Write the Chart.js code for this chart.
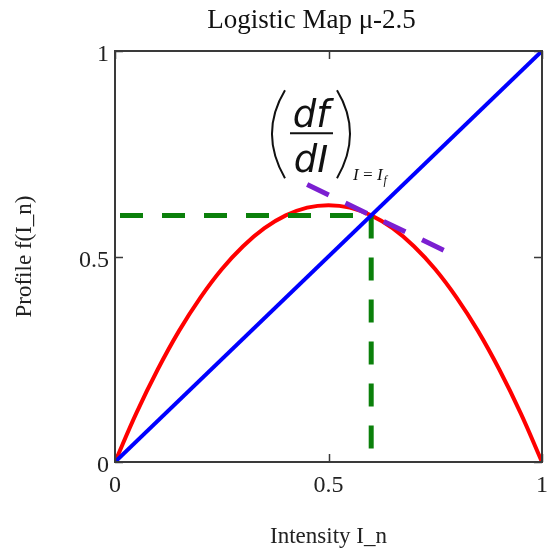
<!DOCTYPE html>
<html>
<head>
<meta charset="utf-8">
<script src="https://cdn.jsdelivr.net/npm/chart.js@4.4.1/dist/chart.umd.min.js"></script>
<style>
  html, body { margin: 0; padding: 0; background: #fff; }
  #wrap { width: 548px; height: 554px; }
</style>
</head>
<body>
<div id="wrap"><canvas id="logistic-chart"></canvas></div>
<script>
// logistic map f(I) = mu * I * (1 - I), mu = 2.5
const intensity = [0, 0.05, 0.1, 0.15, 0.2, 0.25, 0.3, 0.35, 0.4, 0.45, 0.5,
                   0.55, 0.6, 0.65, 0.7, 0.75, 0.8, 0.85, 0.9, 0.95, 1];
const profile   = [0, 0.119, 0.225, 0.319, 0.4, 0.469, 0.525, 0.569, 0.6, 0.619, 0.625,
                   0.619, 0.6, 0.569, 0.525, 0.469, 0.4, 0.319, 0.225, 0.119, 0];

// identity line I_{n+1} = I_n
const diagX = [0, 1];
const diagY = [0, 1];

// fixed point I_f and its guide lines
const fixedX = 0.6;
const fixedY = 0.6;
const guideHX = [0, fixedX];
const guideHY = [fixedY, fixedY];
const guideVX = [fixedX, fixedX];
const guideVY = [fixedY, 0];

// tangent (slope -0.5) through the fixed point
const tangentX = [0.45, 0.77];
const tangentY = [0.675, 0.515];

const tickValues = [0, 0.5, 1];
const tickLabels = ['0', '0.5', '1'];

const titleText = 'Logistic Map \u03bc-2.5';
const xTitle = 'Intensity I_n';
const yTitle = 'Profile f(I_n)';

// annotation anchor (data units)
const noteX = 0.459;
const noteY = 0.80;

const serif = "'Liberation Serif', 'Times New Roman', serif";
const toPts = (xs, ys) => xs.map((v, i) => ({ x: v, y: ys[i] }));

// 框線、內側刻度、標題與 df/dI 註解
const framePlugin = {
  id: 'frame',
  afterDraw(chart) {
    const { ctx, chartArea: a, scales: { x, y } } = chart;
    ctx.save();
    ctx.strokeStyle = '#3a3a3a';
    ctx.lineWidth = 2;
    ctx.strokeRect(a.left, a.top, a.right - a.left, a.bottom - a.top);

    ctx.lineWidth = 1.5;
    ctx.beginPath();
    tickValues.forEach(v => {
      const px = Math.round(x.getPixelForValue(v)) + 0.5;
      const py = Math.round(y.getPixelForValue(v)) + 0.5;
      ctx.moveTo(px, a.bottom); ctx.lineTo(px, a.bottom - 8);
      ctx.moveTo(px, a.top); ctx.lineTo(px, a.top + 8);
      ctx.moveTo(a.left, py); ctx.lineTo(a.left + 8, py);
      ctx.moveTo(a.right, py); ctx.lineTo(a.right - 8, py);
    });
    ctx.stroke();

    // title
    ctx.fillStyle = '#111';
    ctx.font = `27px ${serif}`;
    ctx.textAlign = 'center';
    ctx.textBaseline = 'alphabetic';
    ctx.fillText(titleText, (a.left + a.right) / 2 - 17, 28);

    // (df/dI)_{I=I_f}
    const ax = x.getPixelForValue(noteX);
    const ay = y.getPixelForValue(noteY);
    ctx.lineWidth = 2;
    ctx.strokeStyle = '#111';
    ctx.beginPath();
    ctx.moveTo(ax - 26, ay - 43);
    ctx.quadraticCurveTo(ax - 52, ay, ax - 26, ay + 45);
    ctx.moveTo(ax + 26, ay - 43);
    ctx.quadraticCurveTo(ax + 52, ay, ax + 26, ay + 45);
    ctx.moveTo(ax - 21, ay);
    ctx.lineTo(ax + 22, ay);
    ctx.stroke();

    ctx.font = "italic 37px 'DejaVu Sans', sans-serif";
    ctx.fillText('df', ax, ay - 6);
    ctx.fillText('dI', ax, ay + 39);

    ctx.textAlign = 'left';
    ctx.font = `italic 17px ${serif}`;
    ctx.fillText('I\u2009=\u2009I', ax + 42, ay + 47);
    const w = ctx.measureText('I\u2009=\u2009I').width;
    ctx.font = `italic 12px ${serif}`;
    ctx.fillText('f', ax + 43 + w, ay + 51);
    ctx.restore();
  }
};

const axisBase = {
  type: 'linear',
  min: 0,
  max: 1,
  grid: { display: false, drawTicks: false },
  border: { display: false },
  afterBuildTicks(s) { s.ticks = tickValues.map(v => ({ value: v })); },
};

new Chart(document.getElementById('logistic-chart'), {
  type: 'scatter',
  data: {
    datasets: [
      {
        data: toPts(tangentX, tangentY),
        showLine: true, borderColor: '#7b1fd1', borderWidth: 5,
        borderDash: [24, 18.5], pointRadius: 0, order: 0
      },
      {
        data: toPts(diagX, diagY),
        showLine: true, borderColor: '#0000ff', borderWidth: 4,
        pointRadius: 0, order: 1
      },
      {
        data: toPts(guideHX, guideHY),
        showLine: true, borderColor: '#0b800b', borderWidth: 5,
        borderDash: [23, 19], borderDashOffset: -5, pointRadius: 0, order: 2
      },
      {
        data: toPts(guideVX, guideVY),
        showLine: true, borderColor: '#0b800b', borderWidth: 5,
        borderDash: [23, 19], pointRadius: 0, order: 2
      },
      {
        data: toPts(intensity, profile),
        showLine: true, borderColor: '#ff0000', borderWidth: 4,
        tension: 0.4, pointRadius: 0, order: 3
      }
    ]
  },
  options: {
    responsive: true,
    maintainAspectRatio: false,
    animation: false,
    layout: { padding: { top: 51, right: 6, bottom: 0, left: 0 } },
    plugins: {
      legend: { display: false },
      tooltip: { enabled: false }
    },
    scales: {
      x: {
        ...axisBase,
        position: 'bottom',
        ticks: {
          padding: 9, color: '#222', maxRotation: 0,
          font: { family: serif, size: 24 },
          callback: (v) => tickLabels[tickValues.indexOf(v)]
        },
        title: {
          display: true, text: xTitle, color: '#222',
          font: { family: serif, size: 23 }, padding: { top: 0, bottom: 3 }
        },
        afterFit(s) { s.height = 92; s.paddingLeft = 0; s.paddingRight = 0; }
      },
      y: {
        ...axisBase,
        position: 'left',
        ticks: {
          padding: 6, color: '#222', labelOffset: 4,
          font: { family: serif, size: 24 },
          callback: (v) => tickLabels[tickValues.indexOf(v)]
        },
        title: {
          display: true, text: yTitle, color: '#222',
          font: { family: serif, size: 23 }, padding: { top: 11, bottom: 0 }
        },
        afterFit(s) { s.width = 115; s.paddingTop = 0; s.paddingBottom = 0; }
      }
    }
  },
  plugins: [framePlugin]
});
</script>
</body>
</html>
